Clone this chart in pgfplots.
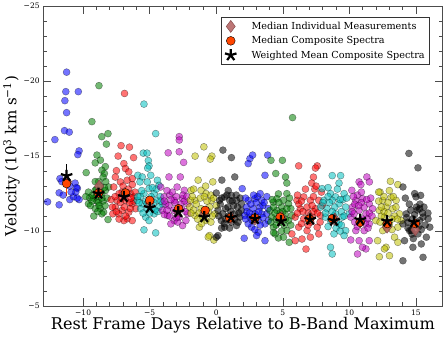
\documentclass[border=0pt]{standalone}
\usepackage{fontspec}
\setmainfont{DejaVu Serif}
\usepackage{pgfplots}
\pgfplotsset{compat=1.18}
\definecolor{mb}{RGB}{0,0,255}
\definecolor{mg}{RGB}{0,128,0}
\definecolor{mr}{RGB}{255,0,0}
\definecolor{mc}{RGB}{0,191,191}
\definecolor{mm}{RGB}{191,0,191}
\definecolor{my}{RGB}{191,191,0}
\definecolor{mk}{RGB}{0,0,0}
\definecolor{dia}{RGB}{178,95,95}
\definecolor{ored}{RGB}{255,69,0}

\pgfplotsset{
  pts/.style={only marks, mark=*, mark size=3.5pt, forget plot,
    mark options={fill=#1, fill opacity=0.55, draw=black, draw opacity=0.45, line width=0.4pt}},
  legimg/.style={legend image code/.code={\path (0cm,0cm) (0.9cm,0cm);\draw[mark repeat=2,mark phase=2,##1] plot coordinates {(0cm,0cm)(0.25cm,0cm)(0.9cm,0cm)};}},
}

\begin{document}
\begin{tikzpicture}
\begin{axis}[
  scale only axis, width=397pt, height=298pt,
  xmin=-13, xmax=17, ymin=-25, ymax=-5, y dir=reverse,
  xtick={-10,-5,0,5,10,15}, xticklabels={−10,−5,0,5,10,15},
  ytick={-25,-20,-15,-10,-5}, yticklabels={−25,−20,−15,−10,−5},
  minor x tick num=4, minor y tick num=4,
  tick align=inside, tick pos=both,
  major tick length=8pt, minor tick length=4pt,
  tick style={black!70, line width=0.6pt},
  axis line style={black!70, line width=0.8pt},
  tick label style={font=\fontsize{7.5}{8}\selectfont},
  xlabel={Rest Frame Days Relative to B-Band Maximum},
  ylabel={Velocity (10\textsuperscript{3} km s\textsuperscript{−1})},
  xlabel style={font=\fontsize{16}{18}\selectfont, yshift=5pt},
  ylabel style={font=\fontsize{15}{17}\selectfont, yshift=-3pt},
  legend style={at={(0.967,0.963)}, anchor=north east, draw=black!80,
    font=\fontsize{9.6}{11}\selectfont, row sep=1.5pt, inner sep=2.5pt,
    cells={anchor=west}},
  legend cell align=left,
]
% bin 1 blue
\addplot[pts=mb] coordinates {(-11.24,-20.6)(-11.3,-19.3)(-10.36,-19.3)(-11.37,-18.7)(-11.24,-17.9)(-11.4,-16.7)(-11.04,-16.6)(-12.12,-16.1)(-10.3,-15.35)(-10.4,-15.1)(-11.74,-13.5)(-11.8,-12.55)(-12.67,-11.95)(-11.8,-11.75)(-11.0,-12.1)(-10.6,-13.2)(-10.43,-12.85)(-10.3,-12.1)(-10.73,-12.3)(-10.5,-12.9)(-11.6,-13.3)(-11.0,-13.0)(-10.45,-12.2)(-10.55,-12.6)(-11.5,-12.4)(-10.9,-12.6)};
% bin 2 green
\addplot[pts=mg] coordinates {(-8.81,-19.7)(-9.34,-17.3)(-8.6,-16.3)(-8.13,-16.5)(-8.25,-15.8)(-9.77,-13.9)(-8.96,-15.07)(-8.7,-14.73)(-9.09,-14.55)(-8.33,-14.3)(-8.59,-14.06)(-8.4,-13.84)(-8.5,-13.6)(-8.3,-13.3)(-8.84,-13.3)(-9.09,-13.3)(-9.52,-12.23)(-9.22,-12.2)(-9.6,-11.82)(-8.96,-12.0)(-8.71,-11.5)(-9.09,-11.5)(-8.46,-11.26)(-8.84,-11.9)(-9.34,-12.0)(-8.59,-12.5)(-8.33,-12.7)(-8.08,-12.94)(-8.13,-10.77)(-8.59,-11.15)(-9.0,-12.8)(-8.7,-12.6)(-9.3,-12.4)(-8.5,-12.0)(-8.9,-11.3)(-9.45,-11.7)(-8.2,-12.2)(-9.0,-12.3)(-8.6,-12.2)(-8.8,-11.7)(-9.2,-11.0)(-8.4,-12.9)(-9.6,-12.6)(-8.7,-13.0)(-9.1,-12.7)(-8.35,-11.7)(-9.8,-12.3)};
% bin 3 red
\addplot[pts=mr] coordinates {(-6.89,-19.18)(-7.15,-15.7)(-6.52,-15.6)(-7.37,-15.0)(-6.21,-14.9)(-7.5,-14.03)(-6.94,-14.5)(-6.82,-14.17)(-6.57,-13.95)(-7.58,-13.6)(-7.2,-13.28)(-6.69,-13.39)(-6.31,-13.5)(-7.7,-12.94)(-7.07,-12.6)(-6.44,-12.5)(-6.19,-12.28)(-7.45,-12.05)(-6.82,-12.05)(-6.31,-11.82)(-7.58,-11.6)(-7.07,-11.38)(-6.57,-11.26)(-6.06,-11.49)(-6.69,-10.82)(-6.31,-10.7)(-6.94,-10.7)(-7.32,-11.15)(-7.9,-12.1)(-7.77,-11.15)(-7.3,-12.5)(-6.6,-12.8)(-7.0,-13.0)(-6.2,-12.0)(-7.8,-11.6)(-6.5,-11.9)(-7.2,-11.9)(-6.9,-11.6)(-6.4,-12.2)(-7.1,-12.2)(-6.7,-12.5)(-7.5,-11.3)(-6.1,-12.6)(-6.8,-11.0)(-7.3,-10.8)(-6.45,-11.5)(-7.6,-12.3)(-6.3,-13.1)};
% bin 4 cyan
\addplot[pts=mc] coordinates {(-5.43,-18.47)(-4.55,-16.5)(-5.48,-15.2)(-5.2,-15.2)(-5.1,-14.7)(-5.05,-14.35)(-5.15,-14.2)(-5.89,-13.72)(-5.56,-13.61)(-4.92,-13.72)(-5.73,-13.28)(-4.42,-13.39)(-4.3,-13.05)(-5.18,-13.28)(-5.05,-12.83)(-5.43,-12.5)(-4.67,-12.5)(-5.93,-12.05)(-5.56,-11.82)(-4.92,-11.93)(-4.42,-12.05)(-4.04,-11.82)(-5.18,-11.49)(-4.67,-11.15)(-5.43,-10.08)(-4.55,-9.88)(-4.3,-11.6)(-5.68,-11.49)(-4.8,-11.6)(-5.3,-10.93)(-5.05,-10.7)(-5.7,-12.3)(-4.5,-12.8)(-5.3,-12.0)(-4.9,-12.3)(-4.2,-12.3)(-5.8,-11.9)(-5.2,-11.8)(-4.7,-11.9)(-5.5,-11.2)(-4.4,-11.3)(-5.0,-11.2)(-4.15,-12.0)(-5.6,-12.7)(-4.8,-12.9)(-4.6,-11.4)(-5.9,-12.3)};
% bin 5 magenta
\addplot[pts=mm] coordinates {(-2.78,-16.3)(-2.78,-16.07)(-3.61,-15.22)(-2.78,-15.29)(-2.45,-14.58)(-3.55,-13.61)(-2.7,-13.61)(-4.17,-12.94)(-2.94,-12.94)(-2.4,-12.72)(-3.92,-12.28)(-3.5,-12.4)(-2.53,-12.17)(-2.15,-11.82)(-4.04,-11.38)(-3.66,-11.04)(-3.16,-10.7)(-2.53,-10.37)(-2.28,-10.7)(-3.55,-11.7)(-2.91,-11.15)(-3.16,-12.05)(-2.15,-11.15)(-3.41,-10.48)(-2.78,-10.93)(-3.8,-11.8)(-3.3,-12.6)(-2.6,-11.5)(-3.9,-11.1)(-3.2,-11.4)(-2.4,-12.0)(-3.7,-12.7)(-3.0,-12.3)(-3.5,-11.0)(-2.7,-11.8)(-3.1,-11.9)(-2.3,-11.3)(-3.4,-12.1)(-2.9,-10.6)(-3.7,-11.4)(-2.5,-12.4)(-3.0,-10.9)(-3.9,-12.0)(-2.2,-12.3)};
% bin 6 yellow
\addplot[pts=my] coordinates {(-0.93,-15.62)(-1.59,-15.0)(-0.33,-15.0)(-0.45,-14.8)(-1.36,-13.4)(-0.26,-13.28)(-1.89,-12.72)(-1.14,-12.72)(-0.77,-12.5)(-1.6,-12.05)(-0.36,-12.05)(-2.0,-11.6)(-1.14,-11.49)(0.0,-11.7)(-1.6,-11.04)(-0.77,-10.7)(-1.27,-10.26)(-0.51,-9.7)(-0.18,-9.4)(-0.6,-9.6)(-0.1,-11.15)(-1.95,-12.05)(-1.4,-10.8)(-0.88,-11.15)(-0.5,-11.6)(-1.7,-11.4)(-1.2,-12.2)(-0.4,-12.4)(-1.8,-12.3)(-0.7,-12.0)(-1.0,-10.9)(-0.3,-11.0)(-1.5,-11.8)(-0.6,-11.3)(-1.3,-11.2)(-0.2,-12.2)(-1.7,-12.8)(-0.9,-12.3)(-1.1,-10.5)(-0.4,-10.6)(-1.9,-11.2)(-0.8,-13.0)};
% bin 7 black
\addplot[pts=mk] coordinates {(0.5,-15.4)(1.14,-14.9)(1.39,-13.61)(0.42,-13.4)(0.0,-12.54)(0.25,-12.05)(0.63,-12.28)(1.14,-12.38)(1.52,-12.05)(1.89,-11.82)(0.13,-11.38)(0.88,-11.6)(1.39,-11.15)(1.77,-10.93)(0.38,-10.7)(1.14,-10.59)(0.63,-10.26)(0.13,-9.7)(0.0,-9.59)(1.52,-10.37)(1.89,-11.38)(1.01,-12.05)(0.5,-11.15)(1.64,-10.59)(0.9,-11.0)(1.3,-11.7)(0.7,-10.8)(1.6,-11.6)(0.3,-11.8)(1.0,-10.2)(1.2,-12.0)(0.8,-12.4)(0.4,-12.2)(1.5,-12.4)(0.7,-11.5)(1.8,-12.2)(0.2,-11.0)(1.1,-11.3)(1.4,-10.8)(0.6,-10.5)(1.7,-11.2)(0.9,-12.7)(0.4,-10.2)};
% bin 8 blue
\addplot[pts=mb] coordinates {(2.53,-14.83)(2.73,-15.07)(2.4,-14.5)(3.86,-15.07)(3.66,-13.72)(1.95,-12.83)(2.4,-12.05)(2.9,-12.16)(3.41,-12.05)(2.27,-11.6)(2.78,-11.49)(3.28,-11.6)(3.79,-11.15)(2.53,-10.93)(3.16,-10.7)(3.66,-10.48)(2.15,-11.04)(2.9,-11.15)(3.41,-11.15)(2.65,-10.26)(3.16,-9.92)(3.66,-9.36)(2.1,-9.52)(3.03,-9.7)(2.4,-10.48)(3.92,-10.7)(3.0,-11.9)(2.6,-11.8)(3.5,-11.7)(2.2,-12.2)(3.2,-11.3)(2.7,-10.7)(3.8,-12.3)(2.3,-11.3)(3.1,-12.3)(3.6,-11.9)(2.8,-12.4)(3.3,-10.4)(2.5,-11.2)(3.9,-11.5)(2.2,-10.8)(3.5,-10.9)(2.9,-10.1)(3.3,-12.5)};
% bin 9 green
\addplot[pts=mg] coordinates {(5.73,-17.57)(4.11,-14.72)(4.97,-14.72)(4.47,-13.84)(5.2,-13.61)(5.3,-13.2)(4.67,-12.48)(5.3,-12.5)(4.29,-11.93)(5.05,-12.05)(5.43,-11.82)(4.55,-11.38)(5.17,-11.15)(4.17,-10.93)(5.68,-11.04)(4.8,-10.59)(4.29,-10.26)(5.3,-10.03)(4.67,-9.54)(5.48,-9.25)(5.05,-9.59)(4.42,-9.81)(4.92,-11.6)(5.43,-10.7)(4.04,-11.38)(4.55,-12.16)(4.3,-11.6)(5.5,-12.2)(4.8,-11.2)(5.1,-10.4)(4.5,-10.8)(5.6,-11.5)(4.4,-11.2)(5.0,-11.3)(4.2,-12.1)(5.3,-11.5)(4.7,-11.9)(4.5,-10.4)(5.2,-10.8)(4.1,-10.6)(4.9,-10.0)(5.6,-10.4)(4.3,-9.9)};
% bin 10 red
\addplot[pts=mr] coordinates {(6.19,-14.35)(7.58,-14.35)(7.45,-14.2)(7.3,-13.6)(7.17,-13.2)(7.4,-12.8)(7.5,-13.0)(6.74,-8.8)(6.06,-12.05)(6.57,-12.28)(7.07,-12.05)(7.7,-12.05)(6.31,-11.49)(6.82,-11.6)(7.45,-11.49)(7.95,-11.7)(5.93,-10.93)(6.57,-10.82)(7.2,-10.93)(7.83,-11.04)(6.19,-10.26)(6.82,-10.03)(7.58,-10.26)(5.93,-9.36)(6.44,-9.47)(7.07,-9.59)(7.7,-9.81)(5.68,-9.81)(6.9,-11.2)(7.3,-11.3)(6.5,-11.3)(7.9,-12.6)(6.2,-11.8)(6.4,-12.0)(7.3,-12.3)(6.7,-12.8)(7.6,-11.2)(6.1,-11.2)(7.1,-10.6)(6.4,-10.5)(7.8,-10.6)(6.9,-10.4)(6.1,-12.4)(7.2,-11.7)};
% bin 11 cyan
\addplot[pts=mc] coordinates {(8.71,-13.7)(9.34,-13.7)(9.22,-13.2)(7.95,-12.83)(8.58,-12.5)(8.96,-12.28)(9.6,-12.5)(8.08,-12.05)(8.71,-12.05)(9.22,-11.82)(9.72,-11.6)(8.33,-11.49)(8.96,-11.15)(9.47,-10.93)(8.58,-10.7)(9.22,-10.48)(9.72,-10.03)(8.84,-9.81)(9.6,-9.7)(8.58,-8.92)(8.71,-8.47)(8.2,-10.93)(9.97,-11.15)(7.83,-11.6)(9.1,-12.8)(8.4,-12.9)(9.4,-11.3)(8.8,-11.0)(9.0,-10.2)(9.5,-12.1)(8.5,-11.9)(9.3,-10.0)(8.4,-12.3)(9.3,-12.1)(8.9,-11.6)(9.6,-11.0)(8.2,-11.2)(9.0,-10.6)(8.4,-10.3)(9.4,-10.4)(9.8,-12.2)(8.0,-11.9)(8.7,-11.3)};
% bin 12 magenta
\addplot[pts=mm] coordinates {(10.73,-13.28)(10.86,-13.1)(11.31,-13.61)(11.5,-13.28)(10.18,-12.72)(10.48,-12.05)(10.98,-12.16)(11.49,-11.82)(10.23,-11.6)(10.73,-11.38)(11.24,-11.15)(11.74,-11.49)(10.1,-10.93)(10.86,-10.7)(11.49,-10.48)(10.48,-10.03)(11.11,-10.03)(10.1,-9.41)(10.73,-9.36)(10.61,-8.47)(11.24,-8.81)(11.49,-9.36)(10.98,-8.92)(10.35,-11.15)(11.36,-10.82)(10.6,-12.4)(11.1,-11.6)(10.4,-10.6)(11.6,-12.2)(10.9,-11.9)(11.2,-10.5)(10.4,-11.8)(11.3,-12.1)(10.7,-11.7)(11.5,-11.2)(10.2,-11.3)(11.0,-10.8)(10.6,-10.3)(11.4,-10.2)(10.9,-12.6)(11.7,-11.0)(10.3,-12.3)};
% bin 13 yellow
\addplot[pts=my] coordinates {(13.08,-13.32)(13.64,-13.1)(12.3,-12.6)(13.13,-12.23)(12.5,-12.05)(13.51,-12.05)(12.75,-11.6)(12.25,-11.38)(13.26,-11.49)(13.76,-11.15)(12.63,-10.93)(11.99,-10.7)(13.01,-10.48)(13.64,-10.26)(12.5,-10.03)(13.39,-9.59)(12.12,-9.36)(13.64,-9.25)(12.75,-8.92)(12.25,-8.29)(13.01,-8.36)(12.63,-8.81)(13.89,-10.7)(12.9,-11.9)(12.4,-11.0)(13.4,-11.0)(12.8,-10.2)(12.2,-12.0)(13.2,-10.8)(12.6,-11.3)(12.6,-12.3)(13.3,-12.3)(12.4,-11.6)(13.5,-11.6)(12.9,-11.2)(12.3,-10.6)(13.6,-10.8)(12.7,-10.4)(13.2,-10.1)(12.2,-12.6)(13.0,-12.7)};
% bin 14 black
\addplot[pts=mk] coordinates {(14.47,-15.18)(15.15,-14.22)(14.02,-12.94)(14.9,-12.5)(15.0,-12.28)(15.35,-12.38)(15.03,-11.6)(15.28,-11.49)(14.27,-11.15)(14.77,-10.82)(15.53,-10.93)(15.91,-10.82)(14.02,-10.48)(14.52,-10.03)(15.15,-9.81)(15.78,-9.59)(14.14,-9.36)(14.77,-8.92)(15.4,-9.14)(15.53,-8.25)(14.02,-8.02)(14.65,-10.03)(16.04,-10.26)(15.28,-10.7)(14.39,-10.59)(15.5,-11.2)(14.6,-11.4)(15.7,-10.4)(14.8,-9.5)(15.2,-10.3)(14.5,-11.8)(15.3,-11.8)(14.3,-10.9)(15.6,-11.6)(14.9,-11.1)(15.4,-10.1)(14.4,-10.2)(15.9,-11.2)(14.7,-9.8)(15.1,-11.4)(14.2,-12.2)};

% summary values
\addplot[only marks, legimg, mark=diamond*, mark size=6pt,
  mark options={fill=dia, draw=dia!70!black, fill opacity=0.85, line width=0.4pt}]
  coordinates {(-11.2,-13.3)(-8.8,-13.0)(-6.9,-12.5)(-5.0,-11.9)(-2.9,-11.4)(-0.9,-11.2)(1.1,-10.9)(2.9,-10.8)(4.9,-10.9)(7.0,-10.9)(8.9,-10.8)(10.8,-10.6)(12.83,-10.26)(14.95,-10.08)};
\addlegendentry{Median Individual Measurements}
\addplot[only marks, legimg, mark=*, mark size=4.4pt,
  mark options={fill=ored, draw=black, line width=0.4pt},
  error bars/.cd, y dir=both, y explicit, error bar style={ored, line width=1pt}, error mark=none]
  coordinates {(-11.24,-13.17) +- (0,0.8) (-8.84,-12.54) +- (0,0.25) (-6.82,-12.54) +- (0,0.3) (-5.0,-12.05) +- (0,0.3) (-2.83,-11.49) +- (0,0.2) (-0.83,-11.38) +- (0,0.2) (1.01,-10.87) +- (0,0.15) (2.9,-10.87) +- (0,0.15) (4.8,-10.93) +- (0,0.2) (7.0,-10.8) +- (0,0.15) (8.71,-10.82) +- (0,0.15) (10.81,-10.59) +- (0,0.15) (12.85,-10.5) +- (0,0.15) (14.95,-10.5) +- (0,0.2)};
\addlegendentry{Median Composite Spectra}
\addplot[only marks, legimg, mark=star, mark size=6pt,
  mark options={fill=black, draw=black, line width=2.2pt},
  error bars/.cd, y dir=both, y explicit, error bar style={black, line width=1pt}, error mark=none]
  coordinates {(-11.24,-13.68) +- (0,0.8) (-8.84,-12.5) +- (0,0.2) (-6.94,-12.28) +- (0,0.2) (-5.0,-11.55) +- (0,0.15) (-2.85,-11.27) +- (0,0.15) (-0.9,-10.93) +- (0,0.1) (1.1,-10.9) +- (0,0.1) (2.9,-10.82) +- (0,0.1) (4.87,-10.66) +- (0,0.1) (7.06,-10.77) +- (0,0.1) (8.84,-10.7) +- (0,0.1) (10.81,-10.75) +- (0,0.1) (12.83,-10.66) +- (0,0.1) (14.85,-10.6) +- (0,0.1)};
\addlegendentry{Weighted Mean Composite Spectra}
\end{axis}
\end{tikzpicture}
\end{document}
